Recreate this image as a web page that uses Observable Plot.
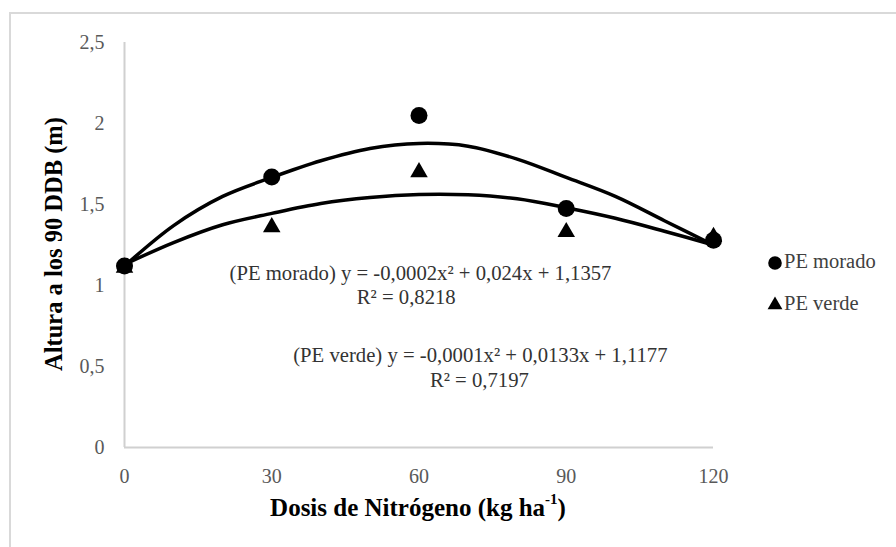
<!DOCTYPE html>
<html>
<head>
<meta charset="utf-8">
<script src="https://cdn.jsdelivr.net/npm/d3@7"></script>
<script src="https://cdn.jsdelivr.net/npm/@observablehq/plot@0.6"></script>
<style>
  html, body { margin: 0; padding: 0; background: #fff; width: 896px; height: 547px; overflow: hidden; }
  #frame { position: absolute; left: 9px; top: 12px; width: 1000px; height: 1000px; border: 2px solid #d9d9d9; box-sizing: border-box; }
  #chart { position: absolute; left: 0; top: 0; }
</style>
</head>
<body>
<div id="frame"></div>
<div id="chart"></div>
<script>
// ---- data ----
const doses = [0, 30, 60, 90, 120];
const moradoHeight = [1.12, 1.67, 2.05, 1.475, 1.28];
const verdeHeight = [1.11, 1.36, 1.70, 1.33, 1.30];

// trend curves
const trendDoses = [0, 10, 20, 30, 40, 50, 60, 70, 80, 90, 100, 110, 120];
const moradoTrend = [1.12, 1.37, 1.55, 1.667, 1.77, 1.846, 1.877, 1.86, 1.78, 1.667, 1.55, 1.40, 1.25];
const verdeTrend = [1.13, 1.265, 1.375, 1.445, 1.506, 1.543, 1.562, 1.56, 1.535, 1.48, 1.415, 1.335, 1.25];

const seriesNames = ["PE morado", "PE verde"];
const equationLines = [
  "(PE morado) y = -0,0002x² + 0,024x + 1,1357",
  "R² = 0,8218",
  "(PE verde) y = -0,0001x² + 0,0133x + 1,1177",
  "R² = 0,7197"
];
const xTicks = [0, 30, 60, 90, 120];
const yTicks = [0, 0.5, 1, 1.5, 2, 2.5];
const xTitle = ["Dosis de Nitrógeno (kg ha", "-1", ")"];
const yTitle = "Altura a los 90 DDB (m)";

// ---- tables ----
const points = doses.flatMap((d, i) => [
  {dose: d, h: moradoHeight[i], s: seriesNames[0]},
  {dose: d, h: verdeHeight[i], s: seriesNames[1]}
]);
const trends = trendDoses.flatMap((d, i) => [
  {dose: d, h: moradoTrend[i], s: seriesNames[0]},
  {dose: d, h: verdeTrend[i], s: seriesNames[1]}
]);
const annotations = [
  {dose: 60.3, h: 1.074, t: equationLines[0]},
  {dose: 57.4, h: 0.925, t: equationLines[1]},
  {dose: 72.5, h: 0.568, t: equationLines[2]},
  {dose: 72.3, h: 0.414, t: equationLines[3]}
];

const FONT = '"Liberation Serif", "Times New Roman", serif';
const comma = d => String(d).replace(".", ",");

const chart = Plot.plot({
  width: 896,
  height: 547,
  marginLeft: 124,
  marginRight: 183,
  marginTop: 42,
  marginBottom: 100,
  style: {fontFamily: FONT, fontSize: "20px", color: "#595959", background: "transparent"},
  x: {domain: [0, 120], ticks: xTicks, tickSize: 0, tickPadding: 21, label: null},
  y: {domain: [0, 2.5], ticks: yTicks, tickFormat: comma, tickSize: 0, tickPadding: 20, label: null},
  marks: [
    Plot.ruleX([0], {stroke: "#d0d0d0", strokeWidth: 2}),
    Plot.ruleY([0], {stroke: "#d0d0d0", strokeWidth: 2}),
    Plot.line(trends, {x: "dose", y: "h", z: "s", curve: "catmull-rom", stroke: "black", strokeWidth: 3.5}),
    Plot.dot(points.filter(d => d.s === seriesNames[1]), {x: "dose", y: "h", symbol: "triangle", r: 6.5, fill: "black"}),
    Plot.dot(points.filter(d => d.s === seriesNames[0]), {x: "dose", y: "h", symbol: "circle", r: 8.5, fill: "black"}),
    Plot.text(annotations, {x: "dose", y: "h", text: "t", fill: "#333", fontSize: 20.7, textAnchor: "middle", fontFamily: FONT})
  ]
});
document.getElementById("chart").appendChild(chart);

// axis titles and legend drawn into the same SVG
const svg = d3.select(chart);
const xt = svg.append("text")
  .attr("x", 418).attr("y", 510)
  .attr("text-anchor", "middle").attr("dominant-baseline", "middle")
  .attr("font-family", FONT).attr("font-size", 25).attr("font-weight", "bold").attr("fill", "#000");
xt.append("tspan").text(xTitle[0]);
xt.append("tspan").attr("dy", -9).attr("font-size", 15).text(xTitle[1]);
xt.append("tspan").attr("dy", 9).text(xTitle[2]);

svg.append("text")
  .attr("transform", "translate(56,244) rotate(-90)")
  .attr("text-anchor", "middle").attr("dominant-baseline", "middle")
  .attr("font-family", FONT).attr("font-size", 24.5).attr("font-weight", "bold").attr("fill", "#000")
  .text(yTitle);

const legend = svg.append("g");
const symbols = [d3.symbolCircle, d3.symbolTriangle];
const sizes = [Math.PI * 6.8 * 6.8, Math.PI * 5.5 * 5.5];
seriesNames.forEach((name, i) => {
  const y = 263 + i * 42;
  legend.append("path")
    .attr("transform", `translate(775,${y})`)
    .attr("d", d3.symbol(symbols[i], sizes[i])())
    .attr("fill", "black");
  legend.append("text")
    .attr("x", 784).attr("y", y)
    .attr("text-anchor", "start")
    .attr("dominant-baseline", "middle")
    .attr("font-family", FONT).attr("font-size", 20.5).attr("fill", "#404040")
    .text(name);
});
</script>
</body>
</html>
